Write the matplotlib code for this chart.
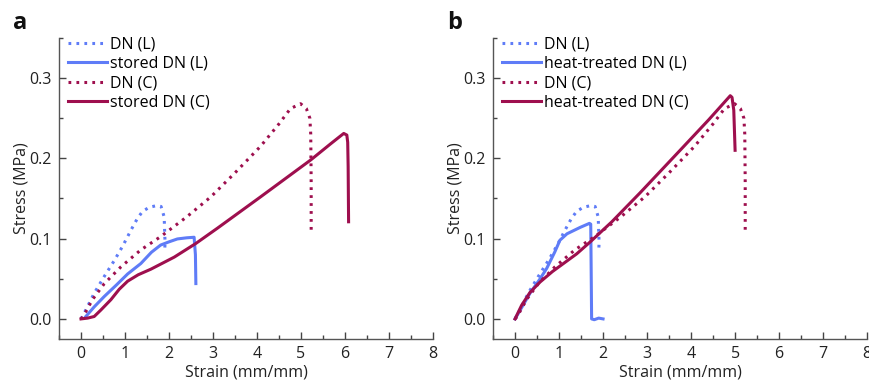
import matplotlib
matplotlib.use('Agg')
import matplotlib.pyplot as plt
from matplotlib.ticker import MultipleLocator

plt.rcParams['font.family'] = ['Open Sans', 'DejaVu Sans']

BLUE = '#5f7cf7'
CRIMSON = '#9e0f4e'

# DN (L) - same curve in both panels
dn_l_x = [0.0, 0.08, 0.3, 0.53, 0.76, 0.95, 1.14, 1.28, 1.40, 1.55, 1.71, 1.82, 1.89, 1.90, 1.91, 1.90]
dn_l_y = [0.0, 0.008, 0.032, 0.053, 0.073, 0.091, 0.111, 0.125, 0.134, 0.139, 0.141, 0.140, 0.127, 0.110, 0.095, 0.083]

# DN (C) - same curve in both panels
dn_c_x = [0.0, 0.05, 0.26, 0.53, 0.91, 1.36, 1.81, 2.40, 2.95, 3.50, 4.08, 4.50, 4.76, 4.99, 5.12, 5.20, 5.22, 5.23, 5.23]
dn_c_y = [0.0, 0.003, 0.024, 0.044, 0.065, 0.086, 0.1025, 0.127, 0.152, 0.182, 0.215, 0.243, 0.262, 0.268, 0.262, 0.250, 0.230, 0.17, 0.111]

# stored DN (L)
st_l_x = [0.11, 0.3, 0.53, 0.8, 1.06, 1.36, 1.60, 1.81, 2.00, 2.19, 2.40, 2.57, 2.60, 2.61]
st_l_y = [0.003, 0.015, 0.028, 0.042, 0.056, 0.069, 0.083, 0.092, 0.096, 0.0996, 0.101, 0.1017, 0.08, 0.044]

# stored DN (C)
st_c_x = [0.0, 0.15, 0.30, 0.45, 0.68, 0.87, 1.06, 1.30, 1.59, 2.12, 2.61, 3.10, 4.08, 5.22, 5.67, 5.90, 5.97, 6.04, 6.06, 6.07, 6.08]
st_c_y = [0.0, 0.001, 0.003, 0.011, 0.024, 0.037, 0.047, 0.055, 0.062, 0.077, 0.094, 0.113, 0.152, 0.198, 0.218, 0.228, 0.231, 0.229, 0.22, 0.19, 0.121]

# heat-treated DN (L)
ht_l_x = [0.0, 0.15, 0.34, 0.57, 0.72, 0.9, 1.02, 1.18, 1.48, 1.69, 1.72, 1.73, 1.74, 1.8, 1.9, 2.0]
ht_l_y = [0.0, 0.014, 0.032, 0.050, 0.063, 0.083, 0.098, 0.106, 0.114, 0.119, 0.118, 0.06, 0.0, -0.001, 0.001, 0.0]

# heat-treated DN (C)
ht_c_x = [0.0, 0.15, 0.34, 0.57, 0.85, 1.10, 1.40, 1.71, 2.20, 2.84, 3.75, 4.40, 4.89, 4.93, 4.97, 5.0]
ht_c_y = [0.0, 0.017, 0.033, 0.046, 0.059, 0.069, 0.081, 0.096, 0.121, 0.157, 0.210, 0.248, 0.278, 0.276, 0.26, 0.21]

panels = [
    ('a', 0.0678, 'stored DN', st_l_x, st_l_y, st_c_x, st_c_y),
    ('b', 0.5667, 'heat-treated DN', ht_l_x, ht_l_y, ht_c_x, ht_c_y),
]

fig = plt.figure(figsize=(8.7, 3.86), dpi=100)

fs = 11.5
dot = (0, (0.9, 1.7))
for letter, left, name, lx, ly, cx, cy in panels:
    ax = fig.add_axes([left, 0.1218, 0.430, 0.780])
    ax.plot(dn_l_x, dn_l_y, color=BLUE, lw=2.2, linestyle=dot, label='DN (L)')
    ax.plot(lx, ly, color=BLUE, lw=2.2, label=name + ' (L)')
    ax.plot(dn_c_x, dn_c_y, color=CRIMSON, lw=2.2, linestyle=dot, label='DN (C)')
    ax.plot(cx, cy, color=CRIMSON, lw=2.2, label=name + ' (C)')

    ax.set_xlim(-0.5, 8)
    ax.set_ylim(-0.025, 0.35)
    ax.xaxis.set_major_locator(MultipleLocator(1))
    ax.xaxis.set_minor_locator(MultipleLocator(0.5))
    ax.set_yticks([0.0, 0.1, 0.2, 0.3])
    ax.yaxis.set_minor_locator(MultipleLocator(0.05))
    ax.tick_params(which='both', direction='in', colors='#444444', labelcolor='#222222', labelsize=fs)
    ax.tick_params(which='major', length=5, width=1)
    ax.tick_params(which='minor', length=3, width=1)
    ax.tick_params(axis='x', pad=5)
    ax.tick_params(axis='y', pad=5)
    for s in ['top', 'right']:
        ax.spines[s].set_visible(False)
    for s in ['left', 'bottom']:
        ax.spines[s].set_color('#555555')
        ax.spines[s].set_linewidth(1)

    ax.set_xlabel('Strain (mm/mm)', fontsize=fs, color='#222222', labelpad=2)
    ax.set_ylabel('Stress (MPa)', fontsize=fs, color='#222222', labelpad=0)

    ax.legend(loc='upper left', bbox_to_anchor=(0.025, 1.005), frameon=False,
              fontsize=fs, handlelength=2.4, handletextpad=0.2,
              labelspacing=0.22, borderpad=0, borderaxespad=0)

    fig.text(left - 0.053, 0.925, letter, fontsize=17, fontweight='bold', color='#111111')

fig.savefig('out.png', dpi=100)
